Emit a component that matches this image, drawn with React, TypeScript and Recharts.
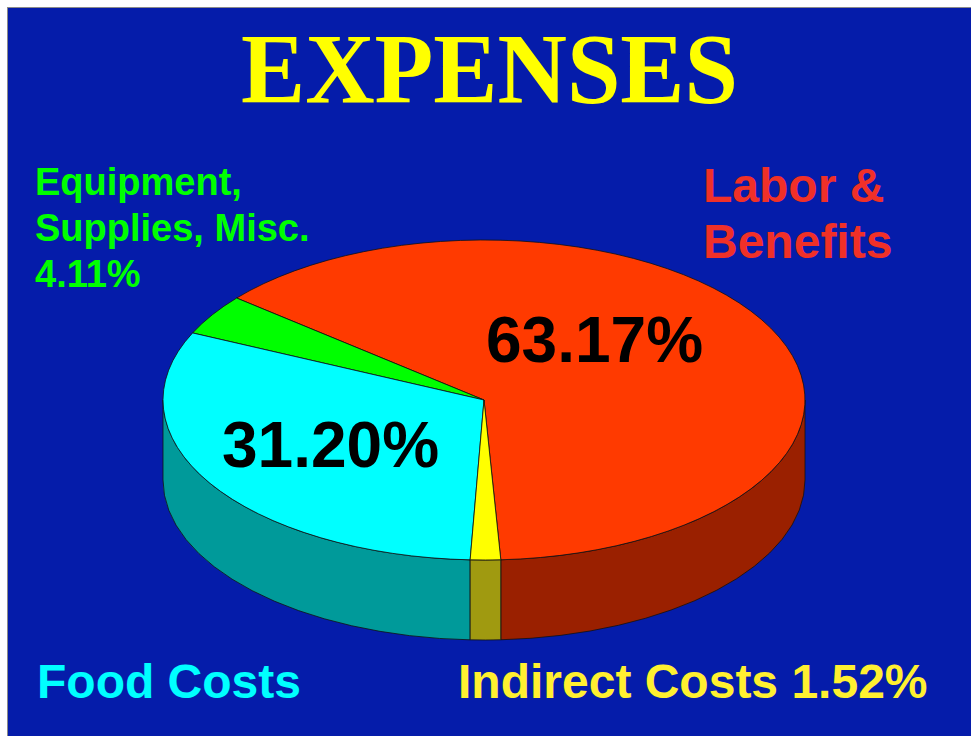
import { PieChart, Pie } from "recharts";

// slice order goes counter-clockwise from just right of the bottom point
const categories = ["Labor & Benefits", "Equipment, Supplies, Misc.", "Food Costs", "Indirect Costs"];
const shares = [63.17, 4.11, 31.2, 1.52];

const topColors = ["#ff3a00", "#00ff00", "#00ffff", "#ffff00"];
const sideColors = ["#9a2000", "#00a000", "#009a9a", "#a09a10"];

const data = categories.map((name, i) => ({ name, value: shares[i] }));

const W = 963;
const H = 728;
const RY_RATIO = 160 / 321;
const DEPTH = 80;

const pt = (cx: number, cy: number, rx: number, ry: number, a: number) => {
  const r = (a * Math.PI) / 180;
  return [cx + rx * Math.cos(r), cy - ry * Math.sin(r)];
};

// draws each slice as an ellipse wedge plus its visible front wall
const renderSlice = (p: any) => {
  const { cx, cy, outerRadius, startAngle, endAngle, index } = p;
  const rx = outerRadius;
  const ry = outerRadius * RY_RATIO;
  const s = Math.min(startAngle, endAngle);
  const e = Math.max(startAngle, endAngle);

  const walls: string[] = [];
  for (let k = -1; k <= 1; k++) {
    const lo = Math.max(s, 180 + 360 * k);
    const hi = Math.min(e, 360 + 360 * k);
    if (hi > lo) {
      const [x1, y1] = pt(cx, cy, rx, ry, lo);
      const [x2, y2] = pt(cx, cy, rx, ry, hi);
      walls.push(
        `M${x1},${y1} A${rx},${ry} 0 0 0 ${x2},${y2} L${x2},${y2 + DEPTH} A${rx},${ry} 0 0 1 ${x1},${y1 + DEPTH} Z`
      );
    }
  }

  const [sx, sy] = pt(cx, cy, rx, ry, s);
  const [ex, ey] = pt(cx, cy, rx, ry, e);
  const large = e - s > 180 ? 1 : 0;
  const top = `M${cx},${cy} L${sx},${sy} A${rx},${ry} 0 ${large} 0 ${ex},${ey} Z`;

  return (
    <g key={`slice-${index}`}>
      {walls.map((d, j) => (
        <path key={j} d={d} fill={sideColors[index]} stroke="#111" strokeWidth={1} strokeOpacity={0.8} />
      ))}
      <path d={top} fill={topColors[index]} stroke="#111" strokeWidth={1} strokeOpacity={0.8} />
    </g>
  );
};

const sans = "'Liberation Sans', Arial, sans-serif";

export default function App() {
  return (
    <>
      <style>{`html,body{overflow:hidden}`}</style>
      <div
        style={{
          position: "absolute",
          left: 7,
          top: 7,
          width: W + 1,
          height: H + 1,
          background: "#051caa",
          borderLeft: "1px solid #8a8a8a",
          borderTop: "1px solid #8a8a8a",
          boxSizing: "border-box",
        }}
      >
        <div style={{ position: "absolute", left: 0, top: 0 }}>
          <PieChart width={W} height={H}>
            <Pie
              data={data}
              dataKey="value"
              nameKey="name"
              cx={471}
              cy={387}
              outerRadius={321}
              startAngle={-87}
              endAngle={273}
              fill="none"
              stroke="none"
              label={renderSlice}
              labelLine={false}
              isAnimationActive={false}
            />
          </PieChart>
        </div>
        <svg
          width={W}
          height={H}
          style={{ position: "absolute", left: 0, top: 0, pointerEvents: "none" }}
        >
          <text
            x={233}
            y={94}
            fill="#ffff00"
            fontFamily="'Liberation Serif', 'Times New Roman', serif"
            fontWeight="bold"
            fontSize={100}
            textLength={497}
            lengthAdjust="spacingAndGlyphs"
          >
            EXPENSES
          </text>
          <g fontFamily={sans} fontWeight="bold" fill="#00ff00" fontSize={38}>
            <text x={27} y={187}>Equipment,</text>
            <text x={27} y={233}>Supplies, Misc.</text>
            <text x={27} y={279}>4.11%</text>
          </g>
          <g fontFamily={sans} fontWeight="bold" fill="#f03028" fontSize={48}>
            <text x={695} y={194}>Labor &amp;</text>
            <text x={695} y={250}>Benefits</text>
          </g>
          <g fontFamily={sans} fontWeight="bold" fill="#000" fontSize={64}>
            <text x={478} y={354}>63.17%</text>
            <text x={214} y={459}>31.20%</text>
          </g>
          <text x={29} y={690} fontFamily={sans} fontWeight="bold" fill="#00ffff" fontSize={48}>
            Food Costs
          </text>
          <text x={450} y={690} fontFamily={sans} fontWeight="bold" fill="#fff030" fontSize={48}>
            Indirect Costs 1.52%
          </text>
        </svg>
      </div>
    </>
  );
}
